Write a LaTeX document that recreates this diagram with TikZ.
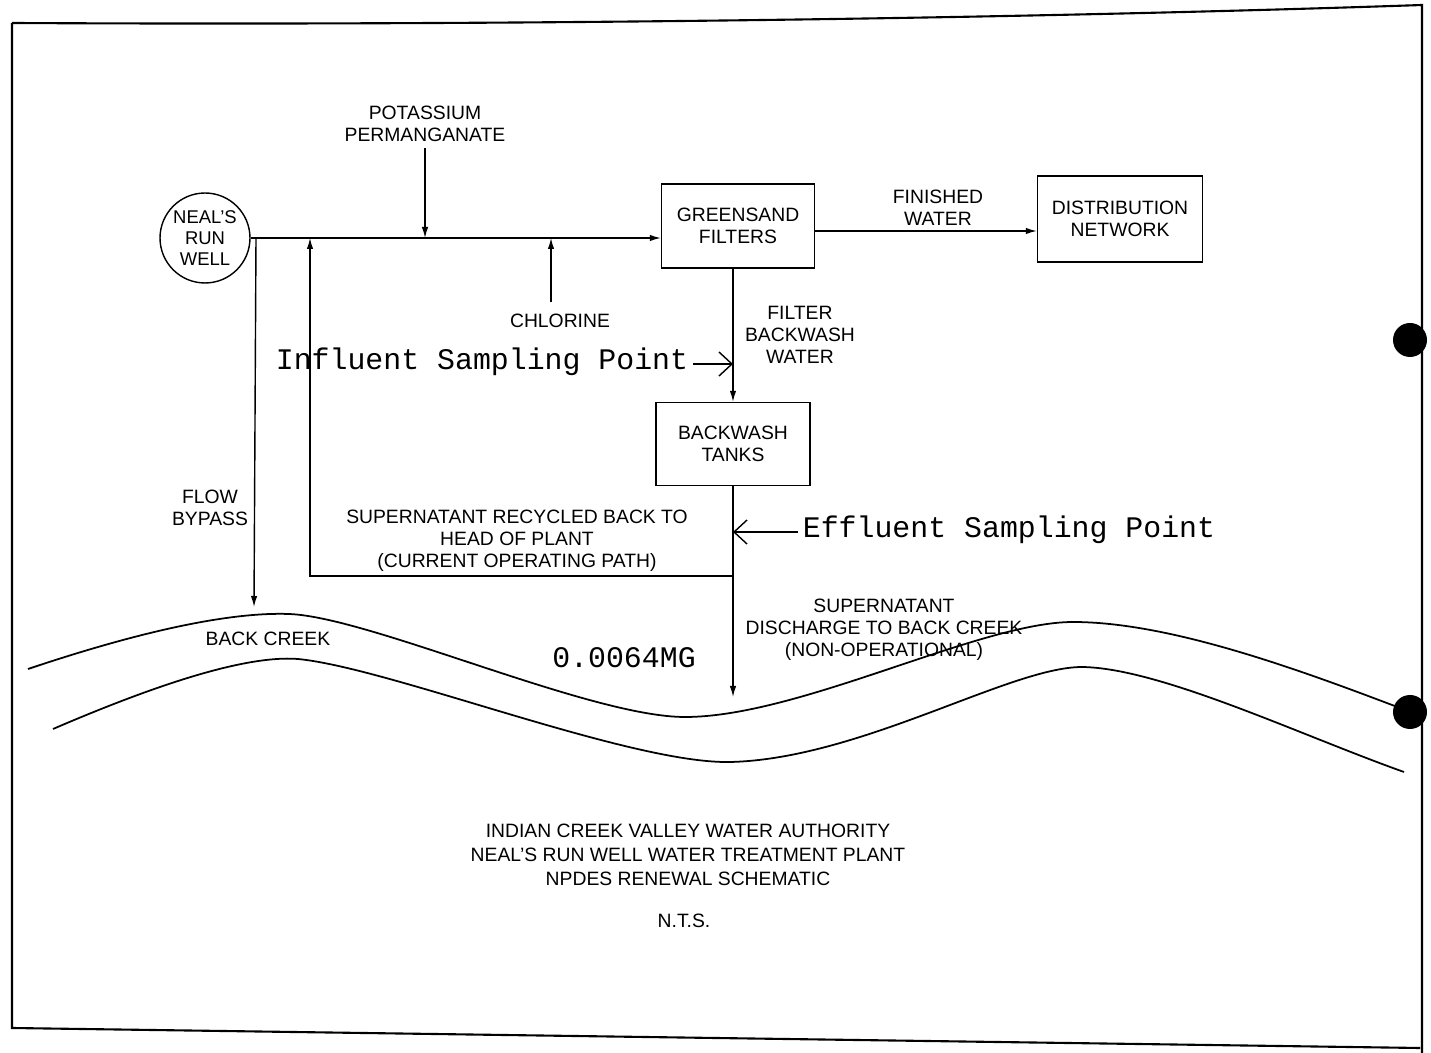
\documentclass[tikz,border=0pt]{standalone}
\usepackage{fontspec}
\setmainfont{Liberation Sans}
\newfontfamily\probefont{Liberation Mono}
\usepackage{tikz}
\usetikzlibrary{arrows.meta,positioning,calc}
\newcommand{\lblfont}{\fontsize{11}{12.6}\selectfont}
\newcommand{\monofont}{\probefont\fontsize{17}{20}\selectfont}

\begin{document}
\begin{tikzpicture}[x=0.02cm,y=-0.02cm,>=Latex,
 every node/.style={font=\lblfont,align=center},
 unit/.style={draw,line width=0.8pt,inner sep=2pt},
 lbl/.style={inner sep=0pt},
 flow/.style={-{Latex[length=2.2mm,width=1.3mm]},line width=0.8pt},
 probe/.style={-{Straight Barb[length=2.6mm,width=4.8mm]},line width=0.8pt},
 creek/.style={line width=1pt}]
\useasboundingbox (0,0) rectangle (1431,1053);
% sheet frame
\draw[line width=1.2pt] (12,23) .. controls (600,26) and (1100,16) .. (1422,5)
  -- (1422,1053) (1420,1048) -- (12,1028) -- (12,23);
\fill (1410,340) circle (17);
\fill (1410,712) circle (17);

% process units
\node[unit,circle,minimum size=1.8cm,inner sep=0pt,font=\fontsize{10.5}{12}\selectfont] (well) at (205,238) {NEAL'S\\RUN\\WELL};
\node[unit,minimum width=3.06cm,minimum height=1.68cm] (filters) at (738,226) {GREENSAND\\FILTERS};
\node[unit,minimum width=3.3cm,minimum height=1.72cm] (distrib) at (1120,219) {DISTRIBUTION\\NETWORK};
\node[unit,minimum width=3.08cm,minimum height=1.66cm] (tanks) at (733,444) {BACKWASH\\TANKS};

% labels
\node[lbl] (kmno4) at (425,124) {POTASSIUM\\PERMANGANATE};
\node[lbl] (cl) at (560,321) {CHLORINE};
\node[lbl] (fin) at (938,208) {FINISHED\\WATER};
\node[lbl] (fbw) at (800,335) {FILTER\\BACKWASH\\WATER};
\node[lbl] (byplbl) at (210,508) {FLOW\\BYPASS};
\node[lbl] (reclbl) at (517,541) {SUPERNATANT RECYCLED BACK TO\\HEAD OF PLANT\\(CURRENT OPERATING PATH)};
\node[lbl] (dislbl) at (884,630) {SUPERNATANT\\DISCHARGE TO BACK CREEK\\(NON-OPERATIONAL)};
\node[lbl] (creeklbl) at (268,639) {BACK CREEK};
\node[lbl,font=\monofont] (vol) at (624,658) {0.0064MG};
\node[lbl,font=\monofont] (infl) at (482,362) {Influent Sampling Point};
\node[lbl,font=\monofont] (effl) at (1009,530) {Effluent Sampling Point};
\node[lbl,font=\fontsize{11}{13.6}\selectfont] (title) at (688,855)
  {INDIAN CREEK VALLEY WATER AUTHORITY\\NEAL'S RUN WELL WATER TREATMENT PLANT\\NPDES RENEWAL SCHEMATIC};
\node[lbl] (nts) at (684,921) {N.T.S.};

% flow lines
\coordinate (clin) at ($(cl.north)+(-9,-12)$);
\coordinate (kin) at ($(kmno4.south)+(0,6)$);
\coordinate (byp) at (256,238);
\coordinate (bout) at (254,607);
\coordinate (rin) at (310,238);
\coordinate (rec) at (733,576);
\coordinate (dis) at (733,697);
\draw[flow] (well.east) -- (well.east -| filters.west);
\draw[flow] (kin) -- (kin |- well);
\draw[flow] (clin) -- (clin |- well);
\draw[flow] ($(filters.east)+(0,5)$) coordinate (fwa) -- (fwa -| distrib.west);
\draw[flow] (tanks.north |- filters.south) -- (tanks.north);
\draw[flow] (tanks.south) -- (dis);
\draw[flow] (rec) -| (rin);
\draw[flow] (byp) -- (bout);

% sampling points
\coordinate (ia) at ($(infl.east)+(5,2)$);
\coordinate (ea) at ($(effl.west)+(-5,2)$);
\draw[probe] (ia) -- (ia -| tanks.north);
\draw[probe] (ea) -- (ea -| tanks.south);

% creek banks
\draw[creek] (28,669) .. controls (150,628) and (235,612) .. (289,614)
  .. controls (370,617) and (590,717) .. (685,717)
  .. controls (800,717) and (980,622) .. (1073,622)
  .. controls (1170,622) and (1300,670) .. (1400,708);
\draw[creek] (53,729) .. controls (190,670) and (260,656) .. (298,659)
  .. controls (390,668) and (630,764) .. (730,762)
  .. controls (860,759) and (1010,667) .. (1082,667)
  .. controls (1160,668) and (1300,735) .. (1404,772);
\end{tikzpicture}
\end{document}
